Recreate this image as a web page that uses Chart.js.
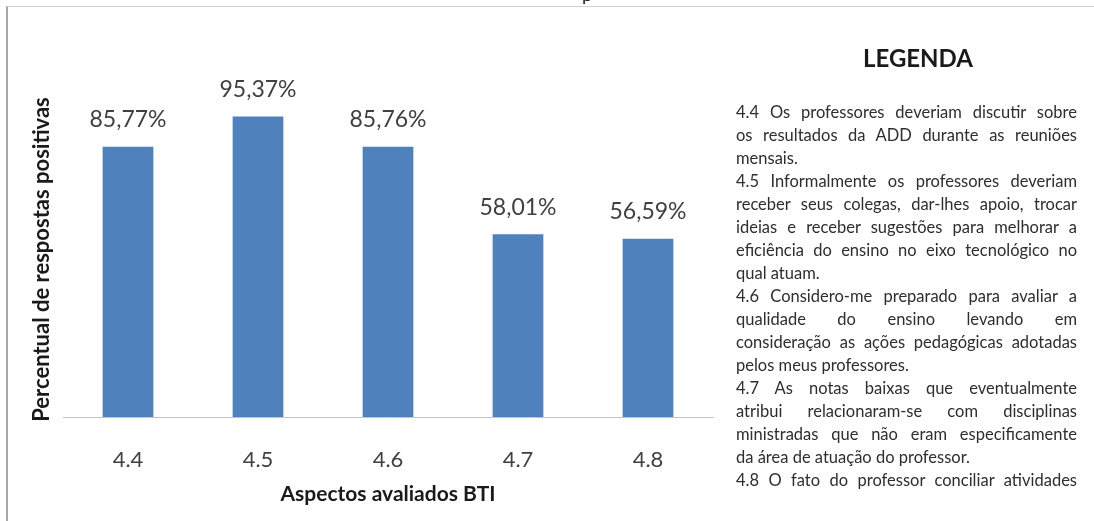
<!DOCTYPE html>
<html lang="pt">
<head>
<meta charset="utf-8">
<title>Aspectos avaliados BTI</title>
<script src="https://cdn.jsdelivr.net/npm/chart.js@4/dist/chart.umd.min.js"></script>
<style>
  html, body { margin: 0; padding: 0; background: #fff; }
  #page { position: relative; width: 1094px; height: 521px; overflow: hidden; font-family: Lato, "Open Sans", sans-serif; }
  #frame { position: absolute; left: 6px; top: 6px; width: 1100px; height: 530px;
           border-top: 1px solid #d2d2d2; border-left: 2px solid #a8a8a8; }
  #cut { position: absolute; left: 582px; top: -15px; font-size: 18px; line-height: 18px; color: #222; }
  #chart { position: absolute; left: 0; top: 0; }
  #legend-title { position: absolute; left: 818px; top: 44px; width: 200px; text-align: center;
                  font-size: 24px; font-weight: bold; color: #1a1a1a; line-height: 28px; }
  #legend-text { position: absolute; left: 736px; top: 101px; width: 341px;
                 font-size: 16.5px; line-height: 23px; color: #2e2e2e; }
  #legend-text div { white-space: nowrap; text-align: justify; text-align-last: justify; }
  #legend-text div.end { text-align-last: left; }
</style>
</head>
<body>
<div id="page">
  <div id="cut">p</div>
  <div id="frame"></div>
  <canvas id="chart" width="1094" height="521"></canvas>
  <div id="legend-title">LEGENDA</div>
  <div id="legend-text"></div>
</div>
<script>
// dados
const aspectos = ['4.4', '4.5', '4.6', '4.7', '4.8'];
const percentuais = [85.77, 95.37, 85.76, 58.01, 56.59];

const legendaLinhas = [
  '4.4  Os professores deveriam  discutir sobre',
  'os resultados da ADD durante as reuniões',
  'mensais.',
  '4.5 Informalmente os professores deveriam',
  'receber seus colegas, dar-lhes apoio, trocar',
  'ideias e receber sugestões para melhorar a',
  'eficiência do ensino no eixo tecnológico no',
  'qual atuam.',
  '4.6 Considero-me preparado para avaliar a',
  'qualidade do ensino levando em',
  'consideração as ações pedagógicas adotadas',
  'pelos meus professores.',
  '4.7 As notas baixas que eventualmente',
  'atribui relacionaram-se com disciplinas',
  'ministradas  que não eram especificamente',
  'da área de atuação do professor.',
  '4.8 O fato do professor conciliar atividades'
];
const fimParagrafo = ['mensais.', 'qual atuam.', 'pelos meus professores.', 'da área de atuação do professor.'];

document.addEventListener('DOMContentLoaded', function() {
  const legendText = document.getElementById('legend-text');
  legendaLinhas.forEach(linha => {
    const div = document.createElement('div');
    div.textContent = linha;
    if (fimParagrafo.includes(linha)) div.className = 'end';
    legendText.appendChild(div);
  });

  // rotulos de valor acima das barras
  const valueLabels = {
    id: 'valueLabels',
    afterDatasetsDraw(chart) {
      const ctx = chart.ctx;
      const meta = chart.getDatasetMeta(0);
      ctx.save();
      ctx.font = '23px Lato, "Open Sans", sans-serif';
      ctx.fillStyle = '#404040';
      ctx.textAlign = 'center';
      ctx.textBaseline = 'middle';
      meta.data.forEach((bar, i) => {
        const txt = percentuais[i].toFixed(2).replace('.', ',') + '%';
        ctx.fillText(txt, bar.x, bar.y - 27);
      });
      ctx.restore();
    }
  };

  new Chart(document.getElementById('chart').getContext('2d'), {
    type: 'bar',
    data: {
      labels: aspectos,
      datasets: [{
        data: percentuais,
        backgroundColor: '#4f81bd',
        borderWidth: 0,
        barPercentage: 0.39,
        categoryPercentage: 1
      }]
    },
    options: {
      responsive: false,
      animation: false,
      layout: { padding: { left: 29, right: 381, top: 102, bottom: 14 } },
      plugins: { legend: { display: false }, tooltip: { enabled: false } },
      scales: {
        x: {
          grid: { display: false, drawTicks: false },
          border: { display: true, color: '#c4c4c4', width: 1 },
          ticks: { color: '#404040', padding: 30, font: { family: 'Lato', size: 22 } },
          title: {
            display: true,
            text: 'Aspectos avaliados BTI',
            color: '#1a1a1a',
            padding: { top: 0, bottom: 0 },
            font: { family: 'Lato', size: 21, weight: 'bold' }
          },
          afterFit: scale => { scale.height = 90; }
        },
        y: {
          min: 0,
          max: 100,
          grid: { display: false, drawTicks: false },
          border: { display: false },
          ticks: { display: false },
          title: {
            display: true,
            text: 'Percentual de respostas positivas',
            color: '#1a1a1a',
            padding: { top: 0, bottom: 0 },
            font: { family: 'Lato', size: 22, weight: 'bold' }
          },
          afterFit: scale => { scale.width = 34; }
        }
      }
    },
    plugins: [valueLabels]
  });
});
</script>
</body>
</html>
